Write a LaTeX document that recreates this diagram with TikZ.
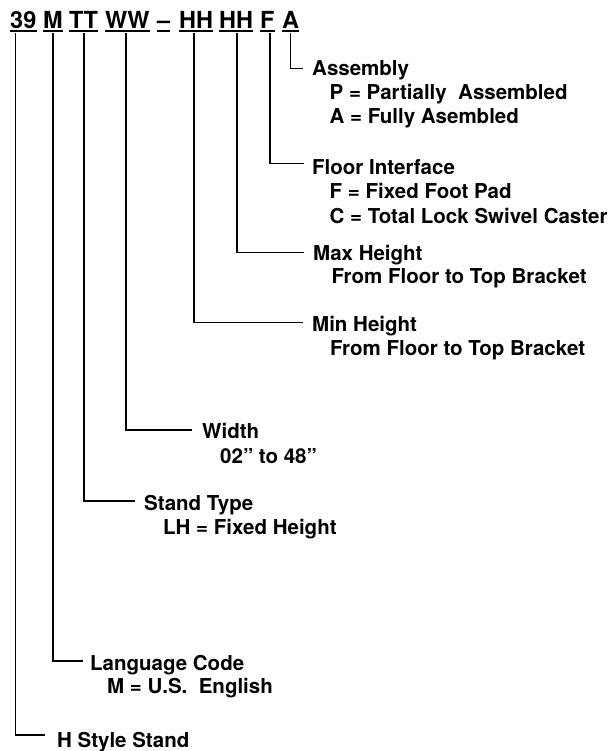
\documentclass[tikz,border=0pt]{standalone}
\usepackage{fontspec}
\setmainfont{TeX Gyre Heros}
\begin{document}
\begin{tikzpicture}[x=1pt,y=-1pt,
  tok/.style={anchor=base west, inner sep=0pt, font=\bfseries\fontsize{23.5}{28}\selectfont},
  ttl/.style={anchor=base west, inner sep=0pt, font=\bfseries\fontsize{20.5}{24}\selectfont},
  conn/.style={line width=1.2pt},
  uline/.style={line width=2pt}]
\useasboundingbox (0,0) rectangle (613,751);
% header tokens
\node[tok] (t1) at (10,29) {39};
\node[tok] (t2) at (43,29) {M};
\node[tok] (t3) at (69,29) {TT};
\node[tok] (t4) at (105,29) {WW};
\node[tok] (t5) at (157,29) {–};
\node[tok] (t6) at (179,29) {HH};
\node[tok] (t7) at (219,29) {HH};
\node[tok] (t8) at (260,29) {F};
\node[tok] (t9) at (282,29) {A};
\foreach \t in {t1,t2,t3,t4,t5,t6,t7,t8,t9}
  \draw[uline] ([yshift=-2.5pt]\t.base west) -- ([yshift=-2.5pt]\t.base east);
% connector start points
\coordinate (v1) at (15.7,33);
\coordinate (v2) at (53,33);
\coordinate (v3) at (84,33);
\coordinate (v4) at (126,33);
\coordinate (v6) at (194,33);
\coordinate (v7) at (237,33);
\coordinate (v8) at (270,33);
\coordinate (v9) at (290.5,33);
% connector end points
\coordinate (e9) at (303,68.3);
\coordinate (e8) at (304,163.3);
\coordinate (e7) at (304,252.7);
\coordinate (e6) at (303,322.7);
\coordinate (e4) at (192,430);
\coordinate (e3) at (135,501);
\coordinate (e2) at (83,661);
\coordinate (e1) at (45,735);
% labels
\node[ttl] (asm) at (312,76) {Assembly};
\node[ttl] (asm1) at (329.5,100) {P = Partially\ \ Assembled};
\node[ttl] (asm2) at (329.5,124) {A = Fully Asembled};
\node[ttl] (flr) at (312,174.3) {Floor Interface};
\node[ttl] (flr1) at (329.5,199) {F = Fixed Foot Pad};
\node[ttl] (flr2) at (329.5,223) {C = Total Lock Swivel Caster};
\node[ttl] (mxh) at (313,260.7) {Max Height};
\node[ttl] (mxh1) at (331.5,283.5) {From Floor to Top Bracket};
\node[ttl] (mnh) at (312,331.7) {Min Height};
\node[ttl] (mnh1) at (330,355) {From Floor to Top Bracket};
\node[ttl] (wid) at (202,438) {Width};
\node[ttl] (wid1) at (220,463) {02” to 48”};
\node[ttl] (stt) at (144,510) {Stand Type};
\node[ttl] (stt1) at (163,534) {LH = Fixed Height};
\node[ttl] (lng) at (90,670) {Language Code};
\node[ttl] (lng1) at (107,693) {M = U.S.\ \ English};
\node[ttl] (hss) at (57,747) {H Style Stand};
% connectors
\foreach \i in {1,2,3,4,6,7,8,9}
  \draw[conn] (v\i) |- (e\i);
\end{tikzpicture}
\end{document}
